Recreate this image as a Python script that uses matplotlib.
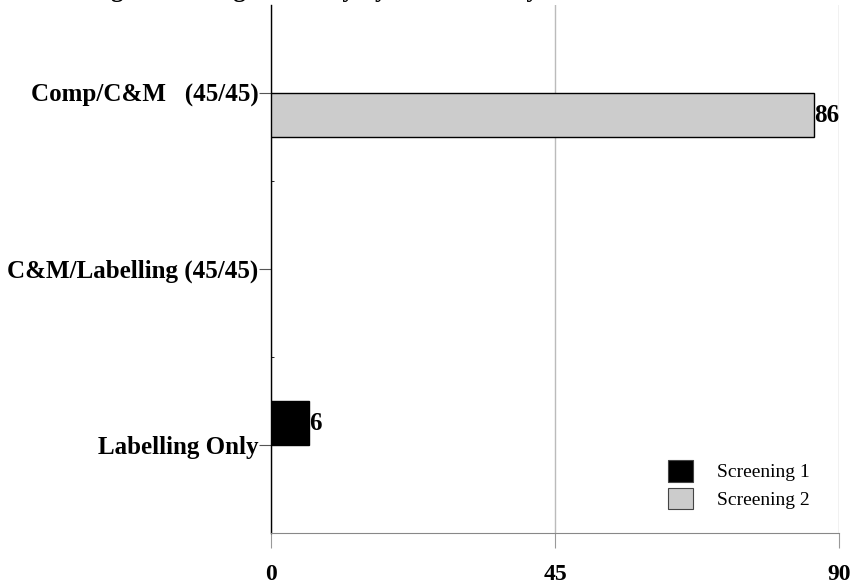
import matplotlib.pyplot as plt
from matplotlib.patches import Patch
from matplotlib.ticker import FixedLocator

# data
categories = ['Labelling Only', 'C&M/Labelling (45/45)', 'Comp/C&M   (45/45)']
screening1 = [6, None, None]
screening2 = [None, None, 86]
series_names = ['Screening 1', 'Screening 2']
series_colors = ['#000000', '#cccccc']
xticks = [0, 45, 90]

plt.rcParams['font.family'] = ['Liberation Serif', 'DejaVu Serif']

fig = plt.figure(figsize=(8.54, 5.86), dpi=100)
ax = fig.add_axes([271/854, 53/586, 568/854, 528/586])

h = 0.25
ypos = list(range(len(categories)))
for i, y in enumerate(ypos):
    if screening1[i] is not None:
        ax.barh(y + h/2, screening1[i], height=h, color=series_colors[0],
                edgecolor='black', linewidth=1, zorder=3)
        ax.text(screening1[i], y + h/2, str(screening1[i]), va='center', ha='left',
                fontsize=18, fontweight='bold', zorder=4)
    if screening2[i] is not None:
        ax.barh(y - h/2, screening2[i], height=h, color=series_colors[1],
                edgecolor='black', linewidth=1, zorder=3)
        ax.text(screening2[i], y - h/2, str(screening2[i]), va='center', ha='left',
                fontsize=18, fontweight='bold', zorder=4)

ax.set_xlim(0, 90)
ax.set_ylim(-0.5, 2.5)
ax.set_xticks(xticks)
ax.set_xticklabels([str(t) for t in xticks], fontsize=17, fontweight='bold')
ax.set_yticks(ypos)
ax.set_yticklabels(categories, fontsize=18, fontweight='bold')
ax.yaxis.set_minor_locator(FixedLocator([0.5, 1.5]))

ax.tick_params(axis='x', direction='out', length=11, color='#999999', pad=11)
ax.tick_params(axis='y', which='major', direction='out', length=9, color='#555555', pad=0)
ax.tick_params(axis='y', which='minor', direction='in', length=2, color='black')

ax.xaxis.grid(True, color='#bbbbbb', linewidth=1, zorder=0)
for s in ['top', 'right']:
    ax.spines[s].set_visible(False)
ax.spines['bottom'].set_color('#888888')
ax.spines['left'].set_color('black')
ax.spines['left'].set_linewidth(1)

handles = [Patch(facecolor=c, edgecolor='#444444', linewidth=0.8) for c in series_colors]
ax.legend(handles, series_names, loc='upper left',
          bbox_to_anchor=((668-271)/568, (533-460)/528), frameon=False,
          fontsize=14, handlelength=1.3, handleheight=1.35, handletextpad=1.2,
          labelspacing=0.3, borderpad=0, borderaxespad=0)

# title is cut off at the top edge in the reference, only descenders show
fig.text(0.02, 1.0 + 3/586, 'Percentage Screening Positively by Standard days',
         fontsize=18, fontweight='bold', va='baseline', ha='left')

fig.savefig('out.png', dpi=100)
